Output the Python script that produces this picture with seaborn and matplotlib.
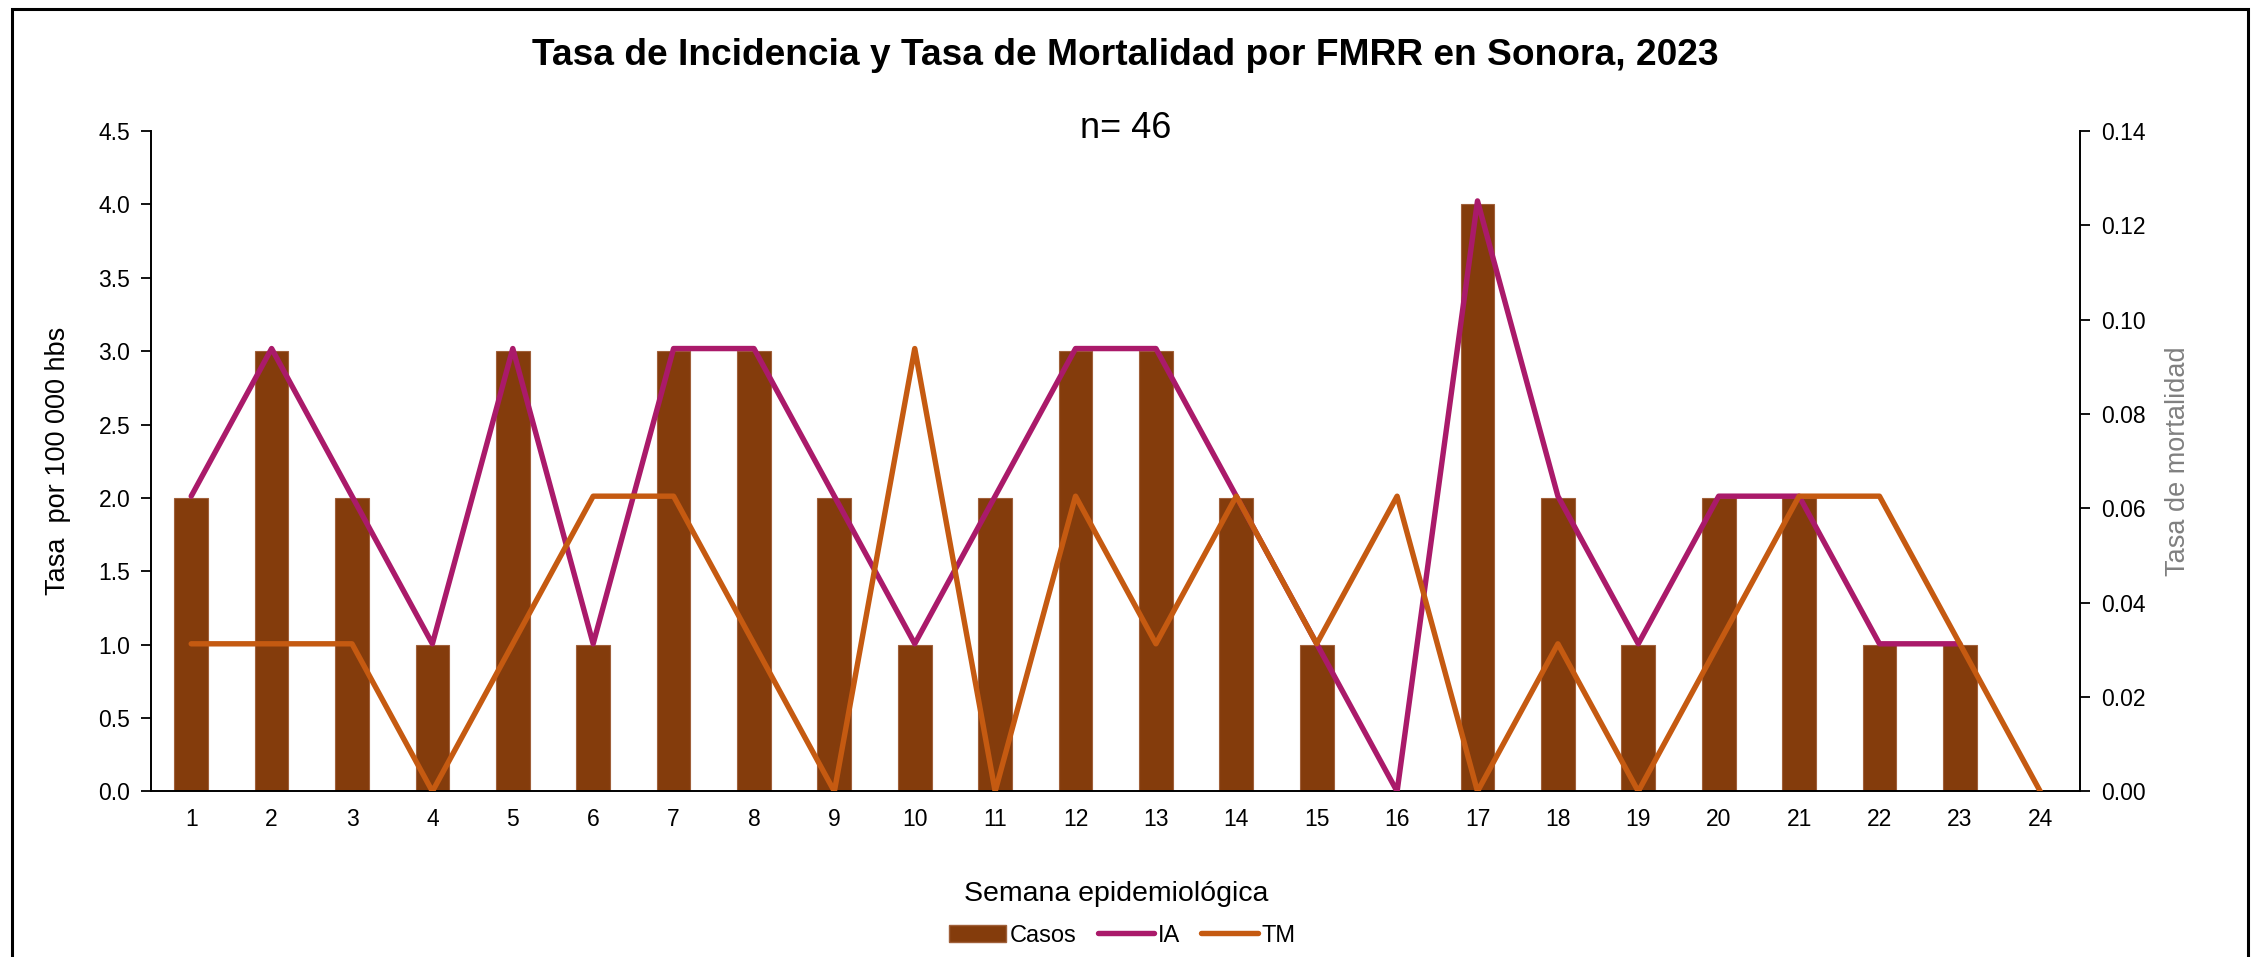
"""
Tasa de incidencia y tasa de mortalidad por FMRR en Sonora, 2023.
Bars = casos por semana epidemiologica, lines = IA / TM on the secondary axis.
"""

import numpy as np
import pandas as pd
import seaborn as sns
import matplotlib.pyplot as plt
from matplotlib.patches import Rectangle, Patch
from matplotlib.lines import Line2D
from matplotlib.ticker import FormatStrFormatter, MultipleLocator

sns.set_style("white")
plt.rcParams['font.family'] = ['Liberation Sans', 'DejaVu Sans']
plt.rcParams['text.color'] = 'black'
plt.rcParams['axes.labelcolor'] = 'black'
plt.rcParams['xtick.color'] = 'black'
plt.rcParams['ytick.color'] = 'black'

# Data
SEMANAS = ['1', '2', '3', '4', '5', '6', '7', '8', '9', '10', '11', '12',
           '13', '14', '15', '16', '17', '18', '19', '20', '21', '22', '23', '24']
CASOS = [2, 3, 2, 1, 3, 1, 3, 3, 2, 1, 2, 3, 3, 2, 1, 0, 4, 2, 1, 2, 2, 1, 1, 0]
IA = [0.0626, 0.0939, 0.0626, 0.0313, 0.0939, 0.0313, 0.0939, 0.0939,
      0.0626, 0.0313, 0.0626, 0.0939, 0.0939, 0.0626, 0.0313, 0.0,
      0.1252, 0.0626, 0.0313, 0.0626, 0.0626, 0.0313, 0.0313, np.nan]
TM = [0.0313, 0.0313, 0.0313, 0.0, 0.0313, 0.0626, 0.0626, 0.0313,
      0.0, 0.0939, 0.0, 0.0626, 0.0313, 0.0626, 0.0313, 0.0626,
      0.0, 0.0313, 0.0, 0.0313, 0.0626, 0.0626, 0.0313, 0.0]

COLOR_CASOS = '#843C0C'
COLOR_IA = '#AA1A6A'
COLOR_TM = '#C55A11'

df = pd.DataFrame({'semana': SEMANAS, 'casos': CASOS, 'IA': IA, 'TM': TM})
df['pos'] = np.arange(len(df))

fig = plt.figure(figsize=(22.54, 9.57), dpi=100)
ax = fig.add_axes([0.067, 0.173, 0.856, 0.690])

sns.barplot(data=df, x='semana', y='casos', order=SEMANAS, color=COLOR_CASOS,
            saturation=1, width=0.42, errorbar=None, edgecolor='#A0603A',
            linewidth=0.8, ax=ax)

ax2 = ax.twinx()
sns.lineplot(data=df, x='pos', y='IA', color=COLOR_IA, linewidth=3.9, ax=ax2)
sns.lineplot(data=df, x='pos', y='TM', color=COLOR_TM, linewidth=3.9, ax=ax2)

# axes limits / ticks
ax.set_xlim(-0.5, len(SEMANAS) - 0.5)
ax.set_ylim(0, 4.5)
ax.yaxis.set_major_locator(MultipleLocator(0.5))
ax.yaxis.set_major_formatter(FormatStrFormatter('%.1f'))
ax2.set_ylim(0, 0.14)
ax2.yaxis.set_major_locator(MultipleLocator(0.02))
ax2.yaxis.set_major_formatter(FormatStrFormatter('%.2f'))

ax.set_xticks(np.arange(len(SEMANAS)))
ax.set_xticklabels(SEMANAS)
ax.set_xticks(np.arange(-0.5, len(SEMANAS), 1), minor=True)
ax.tick_params(axis='x', which='major', length=0, pad=12, labelsize=16.5)
ax.tick_params(axis='x', which='minor', length=7, width=1.3, direction='out')
ax.tick_params(axis='y', length=7, width=1.3, direction='out', labelsize=16.5, pad=8)
ax2.tick_params(axis='y', length=7, width=1.3, direction='out', labelsize=16.5, pad=8)

for a in (ax, ax2):
    a.spines['top'].set_visible(False)
    for s in a.spines.values():
        s.set_color('black')
        s.set_linewidth(1.4)
ax.spines['right'].set_visible(False)
ax2.spines['left'].set_visible(False)
ax2.spines['bottom'].set_visible(False)

ax.set_xlabel('Semana epidemiológica', fontsize=20.5, labelpad=36)
ax.set_ylabel('Tasa  por 100 000 hbs', fontsize=19.5, labelpad=20)
ax2.set_ylabel('Tasa de mortalidad', fontsize=19.5, color='#808080', labelpad=14)

fig.text(0.4994, 0.942, 'Tasa de Incidencia y Tasa de Mortalidad por FMRR en Sonora, 2023',
         ha='center', va='center', fontsize=26.7, fontweight='bold')
fig.text(0.4994, 0.866, 'n= 46', ha='center', va='center', fontsize=26)

# legend sits right at the bottom edge of the picture
handles = [Patch(facecolor=COLOR_CASOS, edgecolor='#A0603A'),
           Line2D([0], [0], color=COLOR_IA, linewidth=3.9),
           Line2D([0], [0], color=COLOR_TM, linewidth=3.9)]
fig.legend(handles, ['Casos', 'IA', 'TM'], loc='lower center', bbox_to_anchor=(0.498, -0.004),
           ncol=3, frameon=False, fontsize=17, handlelength=2.4, columnspacing=0.9,
           handletextpad=0.15, borderpad=0.1)

# outer chart-area frame
fig.patches.append(Rectangle((0.0052, -0.05), 0.9922, 1.041, transform=fig.transFigure,
                             fill=False, edgecolor='black', linewidth=2.2, zorder=10))

fig.savefig('out.png', dpi=100, facecolor='white')
